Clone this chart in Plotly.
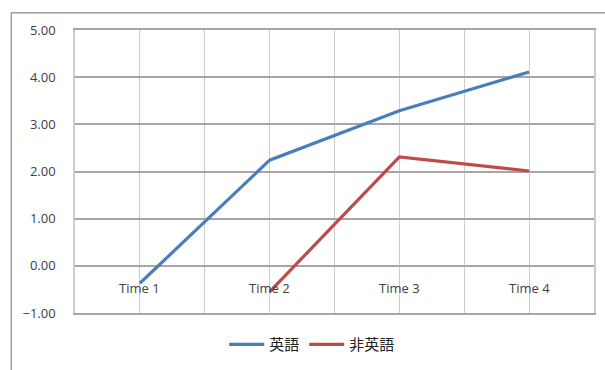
import plotly.graph_objects as go

# Time points and mean scores per group
categories = ["Time 1", "Time 2", "Time 3", "Time 4"]
english = [-0.37, 2.24, 3.29, 4.11]
non_english_times = ["Time 2", "Time 3", "Time 4"]
non_english = [-0.55, 2.31, 2.01]
y_ticks = [-1, 0, 1, 2, 3, 4, 5]

pos = {c: i + 1 for i, c in enumerate(categories)}

tick_font = dict(family="Open Sans, Liberation Sans, sans-serif", size=13, color="#404040")
cjk_font = dict(family="Noto Sans CJK JP, sans-serif", size=15, color="#222222")

fig = go.Figure()
fig.add_trace(go.Scatter(
    x=[pos[c] for c in categories], y=english, mode="lines", name="英語",
    line=dict(color="#4A7EBB", width=3.2),
))
fig.add_trace(go.Scatter(
    x=[pos[c] for c in non_english_times], y=non_english, mode="lines", name="非英語",
    line=dict(color="#BE4B48", width=3.2),
))

# Category labels sit just below the zero line
for c in categories:
    fig.add_annotation(x=pos[c], y=0, xref="x", yref="y", text=c, showarrow=False,
                       yanchor="middle", yshift=-22, font=tick_font)

# Outer chart frame
fig.add_shape(type="rect", xref="paper", yref="paper",
              x0=-0.1228, x1=1.05, y0=-0.3, y1=1.0603,
              line=dict(color="#8C8C8C", width=1.2), fillcolor="rgba(0,0,0,0)", layer="below")

fig.update_layout(
    width=605, height=370,
    margin=dict(l=75, r=9, t=30, b=53),
    paper_bgcolor="white", plot_bgcolor="white",
    showlegend=True,
    legend=dict(orientation="h", x=0.457, xanchor="center", y=-0.112, yanchor="middle",
                font=cjk_font, itemwidth=35, bgcolor="rgba(0,0,0,0)"),
    xaxis=dict(range=[0.5, 4.5], tick0=0.5, dtick=0.5, showticklabels=False, ticks="",
               showgrid=True, gridcolor="#CCCCCC", gridwidth=1, zeroline=False,
               showline=True, mirror=True, linecolor="#A6A6A6", linewidth=1.5),
    yaxis=dict(range=[-1, 5], tickvals=y_ticks, tickformat=".2f", ticks="",
               ticklabelstandoff=15, tickfont=tick_font,
               showgrid=True, gridcolor="#A6A6A6", gridwidth=1.5, zeroline=False,
               showline=True, mirror=True, linecolor="#CCCCCC", linewidth=1.5),
)

fig.write_html("out.html")
